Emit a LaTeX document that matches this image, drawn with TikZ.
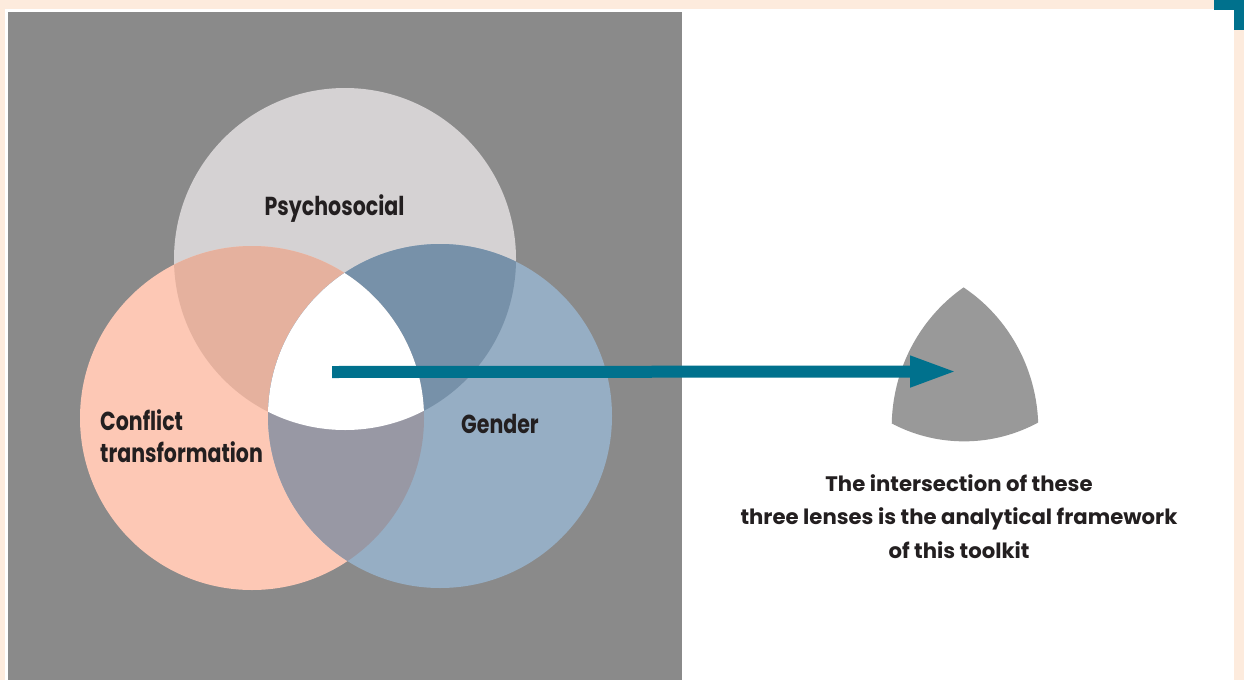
\documentclass[tikz,border=0pt]{standalone}
\usepackage{fontspec}
\setmainfont{Poppins}
\newfontfamily\labelfont[FakeStretch=0.79]{Poppins}
\newfontfamily\notefont[FakeStretch=1.01]{Poppins}
\usetikzlibrary{arrows.meta}
\definecolor{peach}{HTML}{FDEBDD}
\definecolor{panelgray}{HTML}{8A8A8A}
\definecolor{tealc}{HTML}{00718D}
\definecolor{pcol}{HTML}{D5D2D3}
\definecolor{ccol}{HTML}{FDC8B5}
\definecolor{gcol}{HTML}{96AEC4}
\definecolor{pccol}{HTML}{E5B19E}
\definecolor{pgcol}{HTML}{7791A9}
\definecolor{cgcol}{HTML}{9898A4}
\definecolor{rgray}{HTML}{999999}
\definecolor{inkc}{HTML}{231F20}
\tikzset{
  lenslabel/.style={text=inkc, font=\labelfont\bfseries\fontsize{26}{32}\selectfont, inner sep=0pt},
  notetext/.style={text=inkc, font=\notefont\bfseries\fontsize{21}{33.5}\selectfont, align=center, inner sep=0pt}
}
\begin{document}
\begin{tikzpicture}[x=1pt,y=-1pt]
\useasboundingbox (0,0) rectangle (1244,680);
% frame
\fill[peach] (0,0) rectangle (1244,680);
\fill[white] (5,9) rectangle (1234,680);
\fill[panelgray] (8,12) rectangle (682,680);
\fill[tealc] (1214,0) rectangle (1244,10);
\fill[tealc] (1234,0) rectangle (1244,30);
% circles
\coordinate (P) at (345,259);
\coordinate (C) at (252,418);
\coordinate (G) at (440,416);
\fill[pcol] (P) circle[radius=171];
\fill[ccol] (C) circle[radius=172];
\fill[gcol] (G) circle[radius=172];
\begin{scope}
  \clip (P) circle[radius=171];
  \fill[pccol] (C) circle[radius=172];
  \fill[pgcol] (G) circle[radius=172];
\end{scope}
\begin{scope}
  \clip (C) circle[radius=172];
  \fill[cgcol] (G) circle[radius=172];
\end{scope}
\begin{scope}
  \clip (P) circle[radius=171];
  \clip (C) circle[radius=172];
  \fill[white] (G) circle[radius=172];
\end{scope}
% reduced intersection shape
\begin{scope}[shift={(965,360)}, xscale=0.94, yscale=0.98, shift={(-346,-347)}]
  \clip (345,259) circle[radius=171];
  \clip (252,418) circle[radius=172];
  \fill[rgray] (440,416) circle[radius=172];
\end{scope}
% labels
\node[lenslabel, anchor=base] (psy) at (334.5,215) {Psychosocial};
\node[lenslabel, anchor=base west] (con) at (100,430) {Conflict};
\node[lenslabel, anchor=base west] (tra) at (100,462) {transformation};
\node[lenslabel, anchor=base west] (gen) at (461,433) {Gender};
% arrow
\coordinate (astart) at (332,372);
\coordinate (aend) at (958,371.5);
\draw[tealc, line width=12pt, -{Triangle[length=48pt,width=28pt]}] (astart) -- (aend);
% note
\node[notetext, anchor=north] (note) at (959,474) {The intersection of these\\three lenses is the analytical framework\\of this toolkit};
\end{tikzpicture}
\end{document}
